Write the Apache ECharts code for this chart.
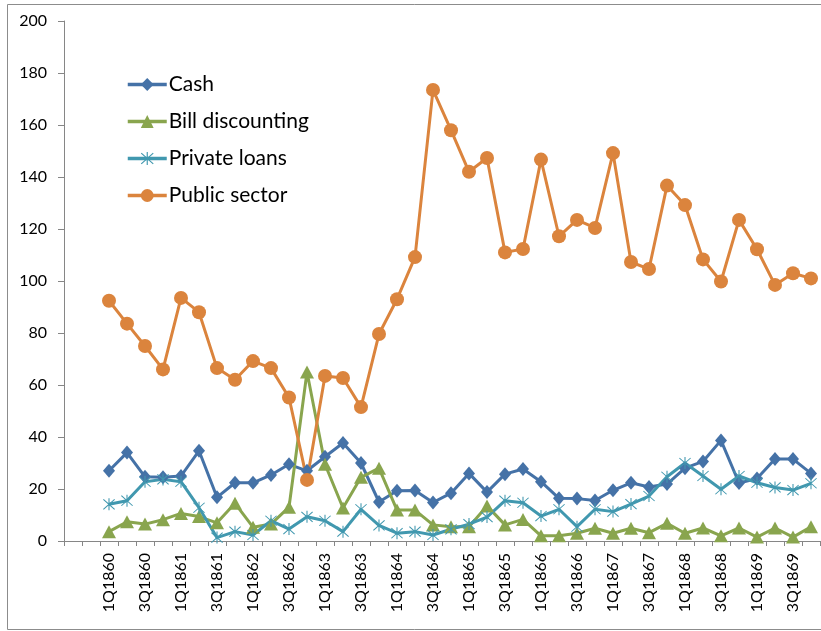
<!DOCTYPE html>
<html>
<head>
<meta charset="utf-8">
<script src="https://cdn.jsdelivr.net/npm/echarts@6/dist/echarts.min.js"></script>
<style>
  html, body { margin: 0; padding: 0; background: #fff; }
  #chart { width: 821px; height: 631px; }
</style>
</head>
<body>
<div id="chart"></div>
<script>
// Quarterly categories; two empty leading slots precede 1Q1860 on the axis.
const quarters = [
  '', ' ',
  '1Q1860', '2Q1860', '3Q1860', '4Q1860',
  '1Q1861', '2Q1861', '3Q1861', '4Q1861',
  '1Q1862', '2Q1862', '3Q1862', '4Q1862',
  '1Q1863', '2Q1863', '3Q1863', '4Q1863',
  '1Q1864', '2Q1864', '3Q1864', '4Q1864',
  '1Q1865', '2Q1865', '3Q1865', '4Q1865',
  '1Q1866', '2Q1866', '3Q1866', '4Q1866',
  '1Q1867', '2Q1867', '3Q1867', '4Q1867',
  '1Q1868', '2Q1868', '3Q1868', '4Q1868',
  '1Q1869', '2Q1869', '3Q1869', '4Q1869'
];

const cash = [
  27, 34, 24.7, 24.5, 25, 34.7, 16.8, 22.4, 22.4, 25.4,
  29.5, 27, 32.4, 37.7, 30, 15, 19.3, 19.4, 14.8, 18.4,
  26, 18.8, 25.7, 27.7, 22.8, 16.4, 16.3, 15.6, 19.5, 22.4,
  20.8, 21.9, 28, 30.6, 38.7, 22.3, 24, 31.5, 31.5, 26
];

const billDiscounting = [
  3.6, 7.4, 6.5, 8.2, 10.6, 9.4, 7, 14.5, 5.3, 6.5,
  13, 65, 29.5, 12.7, 24.5, 28, 11.9, 11.9, 6.2, 5.5,
  5.5, 13.5, 6.2, 8.3, 2, 2, 3, 4.9, 3, 4.9,
  3.2, 6.8, 3, 5, 2, 5, 1.5, 5, 1.5, 5.5
];

const privateLoans = [
  14.1, 15.5, 22.8, 23.7, 22.8, 12.8, 1.3, 3.6, 2.3, 7.8,
  4.6, 9.3, 7.8, 3.6, 12.2, 6, 3, 3.6, 2.3, 4.5,
  6.5, 9.2, 15.5, 14.7, 9.6, 12.2, 5.5, 12.2, 11.3, 14.2,
  17.3, 24.7, 30, 25, 19.9, 25, 22.4, 20.6, 19.6, 22.2
];

const publicSector = [
  92.4, 83.6, 75, 66, 93.5, 88, 66.5, 62, 69.2, 66.5,
  55.2, 23.5, 63.5, 62.7, 51.5, 79.6, 93, 109.2, 173.5, 158,
  142, 147.3, 111, 112.3, 146.7, 117.2, 123.5, 120.4, 149.2, 107.3,
  104.6, 136.7, 129.2, 108.3, 99.8, 123.5, 112.2, 98.5, 103, 101
];

const yTicks = { min: 0, max: 200, step: 20 };

// Leading empty slots carry no value
const pad = [null, null];

// Six-armed asterisk marker: a vertical bar plus an X
const asterisk = 'path://M9.2 0 L10.8 0 L10.8 20 L9.2 20 Z ' +
  'M1.1 2.2 L2.2 1.1 L18.9 17.8 L17.8 18.9 Z ' +
  'M17.8 1.1 L18.9 2.2 L2.2 18.9 L1.1 17.8 Z';

const FONT = 'Lato, "Open Sans", "Liberation Sans", sans-serif';

function lineSeries(name, values, color, symbol, size) {
  return {
    name: name,
    type: 'line',
    data: pad.concat(values),
    symbol: symbol,
    symbolSize: size,
    showAllSymbol: true,
    lineStyle: { color: color, width: 3 },
    itemStyle: { color: color, borderWidth: 0 },
    emphasis: { disabled: true },
    animation: false
  };
}

const chart = echarts.init(document.getElementById('chart'), null, { renderer: 'canvas' });

chart.setOption({
  backgroundColor: '#ffffff',
  animation: false,
  graphic: [{
    type: 'rect',
    shape: { x: 7.5, y: 4.5, width: 830, height: 625 },
    style: { fill: 'none', stroke: '#8c8c8c', lineWidth: 1 },
    silent: true,
    z: -10
  }],
  grid: { left: 64, right: 1, top: 21, bottom: 90 },
  legend: {
    orient: 'vertical',
    left: 126,
    top: 74,
    padding: 0,
    itemWidth: 39,
    itemHeight: 16,
    itemGap: 16,
    lineStyle: { width: 3.5 },
    textStyle: { fontFamily: FONT, fontSize: 21, color: '#000', lineHeight: 21, padding: [0, 0, 0, -3] },
    data: ['Cash', 'Bill discounting', 'Private loans', 'Public sector']
  },
  xAxis: {
    type: 'category',
    data: quarters,
    boundaryGap: true,
    axisLine: { show: true, lineStyle: { color: '#868686', width: 1 } },
    axisTick: { show: true, interval: 0, length: 5, lineStyle: { color: '#868686' } },
    axisLabel: {
      interval: 1,
      rotate: 90,
      margin: 12,
      fontFamily: FONT,
      fontSize: 16,
      color: '#000'
    },
    splitLine: { show: false }
  },
  yAxis: {
    type: 'value',
    min: yTicks.min,
    max: yTicks.max,
    interval: yTicks.step,
    axisLine: { show: true, lineStyle: { color: '#868686', width: 1 } },
    axisTick: { show: true, length: 6, lineStyle: { color: '#868686' } },
    axisLabel: { fontFamily: FONT, fontSize: 16, color: '#000', margin: 17 },
    splitLine: { show: false }
  },
  series: [
    lineSeries('Cash', cash, '#4572A7', 'diamond', [12, 14]),
    lineSeries('Bill discounting', billDiscounting, '#89A54E', 'triangle', [14, 13]),
    lineSeries('Private loans', privateLoans, '#4198AF', asterisk, 12),
    lineSeries('Public sector', publicSector, '#DB843D', 'circle', 14)
  ]
});
</script>
</body>
</html>
